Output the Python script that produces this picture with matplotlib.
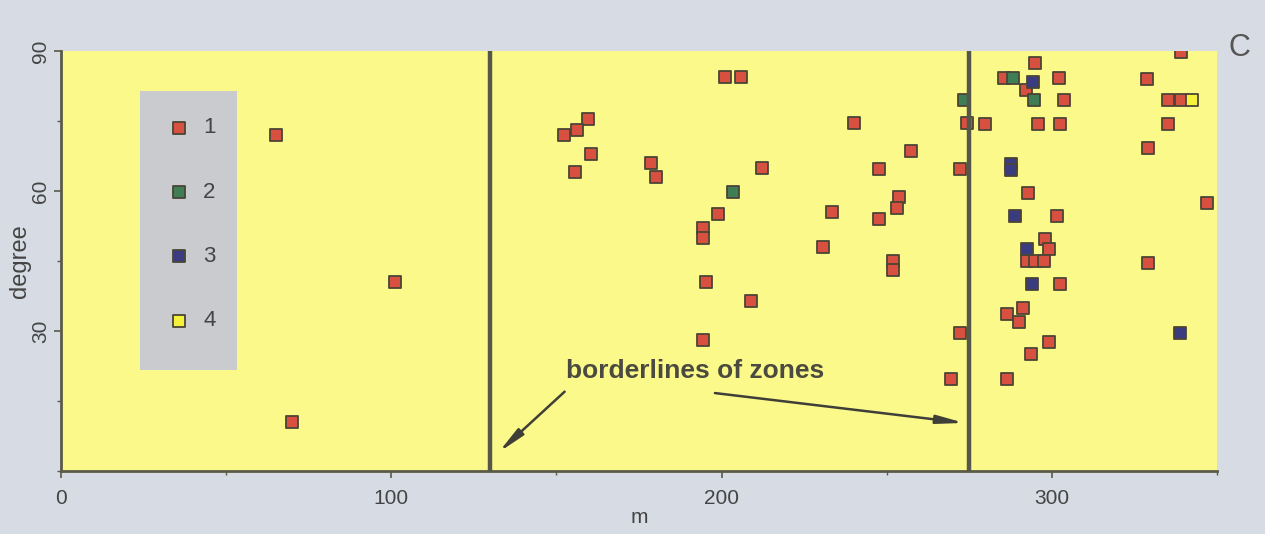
import matplotlib.pyplot as plt
from matplotlib.patches import Rectangle
from matplotlib.ticker import MultipleLocator

plt.rcParams['font.family'] = ['Liberation Sans', 'DejaVu Sans']

# group 1 - bulk of the measurements
x1 = [65, 101, 70,
      201, 206, 159.5, 152.4, 156.2, 160.5, 155.6, 178.7, 180.1, 212.3, 199,
      194.5, 194.5, 195.2, 209, 194.5, 240.2, 257.5, 247.7, 233.3, 247.7,
      253.7, 253, 230.6, 252, 252, 272.2, 272.2, 269.4, 274.4,
      339, 294.9, 285.5, 292.2, 302.1, 303.8, 328.8, 335.3, 339.1, 279.9,
      295.8, 302.5, 335.1, 329.1, 292.7, 347, 301.6, 297.9, 299.1, 292.5,
      295, 297.6, 329.1, 302.5, 291.3, 286.3, 290, 299.1, 293.8, 286.3]
y1 = [72, 40.5, 10.5,
      84.5, 84.5, 75.5, 72, 73, 68, 64, 66, 63, 65, 55,
      52, 50, 40.5, 36.5, 28, 74.5, 68.5, 64.8, 55.5, 54,
      58.8, 56.4, 48, 45, 43, 64.7, 29.5, 19.8, 74.5,
      89.7, 87.4, 84.3, 81.6, 84.3, 79.5, 84, 79.4, 79.4, 74.4,
      74.4, 74.4, 74.4, 69.2, 59.5, 57.4, 54.7, 49.8, 47.5, 44.9,
      44.9, 44.9, 44.6, 40, 35, 33.6, 32, 27.7, 25, 19.7]

# group 2
x2 = [203.5, 273.4, 288.2, 294.7]
y2 = [59.7, 79.6, 84.3, 79.5]

# group 3
x3 = [294.4, 287.5, 287.5, 288.8, 292.5, 294, 338.7]
y3 = [83.4, 65.8, 64.6, 54.7, 47.5, 40, 29.5]

# group 4
x4 = [342.4]
y4 = [79.4]

groups = ['1', '2', '3', '4']
colors = ['#d8503f', '#3f7d55', '#3b3b82', '#f5f23c']
borders = [130, 275]

fig = plt.figure(figsize=(12.65, 5.34), dpi=100, facecolor='#d7dbe3')
ax = fig.add_axes([0.0482, 0.118, 0.9138, 0.7865])
ax.set_facecolor('#fbf98a')

edge = '#4a4535'
for xs, ys, c, lab in zip([x1, x2, x3, x4], [y1, y2, y3, y4], colors, groups):
    ax.scatter(xs, ys, s=80, marker='s', c=c, edgecolors=edge,
               linewidths=1.3, label=lab, zorder=3)

for b in borders:
    ax.axvline(b, color='#56564a', lw=3.2, zorder=4)

ax.set_xlim(0, 350)
ax.set_ylim(0, 90)
ax.xaxis.set_major_locator(MultipleLocator(100))
ax.xaxis.set_minor_locator(MultipleLocator(50))
ax.yaxis.set_major_locator(MultipleLocator(30))
ax.yaxis.set_minor_locator(MultipleLocator(15))

for side in ['top', 'right']:
    ax.spines[side].set_visible(False)
for side in ['left', 'bottom']:
    ax.spines[side].set_color('#5a5a48')
    ax.spines[side].set_linewidth(2)

ax.tick_params(which='major', length=5, width=1.2, color='#5a5a48',
               labelsize=15, labelcolor='#444444')
ax.tick_params(axis='x', which='major', pad=8)
ax.tick_params(axis='y', which='major', pad=3)
ax.tick_params(which='minor', length=3, width=1, color='#5a5a48')
ax.set_xticks([0, 100, 200, 300])
ax.set_yticks([30, 60, 90])
for lbl in ax.get_yticklabels():
    lbl.set_rotation(90)
    lbl.set_va('center')

ax.set_xlabel('m', fontsize=15, color='#444444', labelpad=0)
ax.set_ylabel('degree', fontsize=17, color='#444444')
ax.yaxis.set_label_coords(-0.026, 0.5)

# grey panel behind the legend
ax.add_patch(Rectangle((0.0683, 0.2405), 0.0839, 0.6645,
                       transform=ax.transAxes, facecolor='#c9cbce',
                       edgecolor='none', zorder=2))
leg = ax.legend(loc='upper left', bbox_to_anchor=(0.073, 0.9),
                frameon=False, fontsize=16,
                labelspacing=1.95, borderpad=1.1, handlelength=0.8,
                handletextpad=0.7, borderaxespad=0, markerscale=0.9)
for t in leg.get_texts():
    t.set_color('#444444')

ax.text(153, 21.5, 'borderlines of zones', fontsize=19, fontweight='bold',
        color='#4a4a40', va='center', ha='left', zorder=5)
arrow = dict(arrowstyle='-|>,head_length=1.6,head_width=0.25',
             color='#3f3f38', lw=1.8, shrinkA=0, shrinkB=0)
ax.annotate('', xy=(132.5, 4), xytext=(152.5, 17), arrowprops=arrow)
ax.annotate('', xy=(273.5, 10.3), xytext=(198, 16.7), arrowprops=arrow)

fig.text(0.98, 0.895, 'C', fontsize=22, color='#555555', ha='center')

fig.savefig('out.png', dpi=100, facecolor=fig.get_facecolor())
